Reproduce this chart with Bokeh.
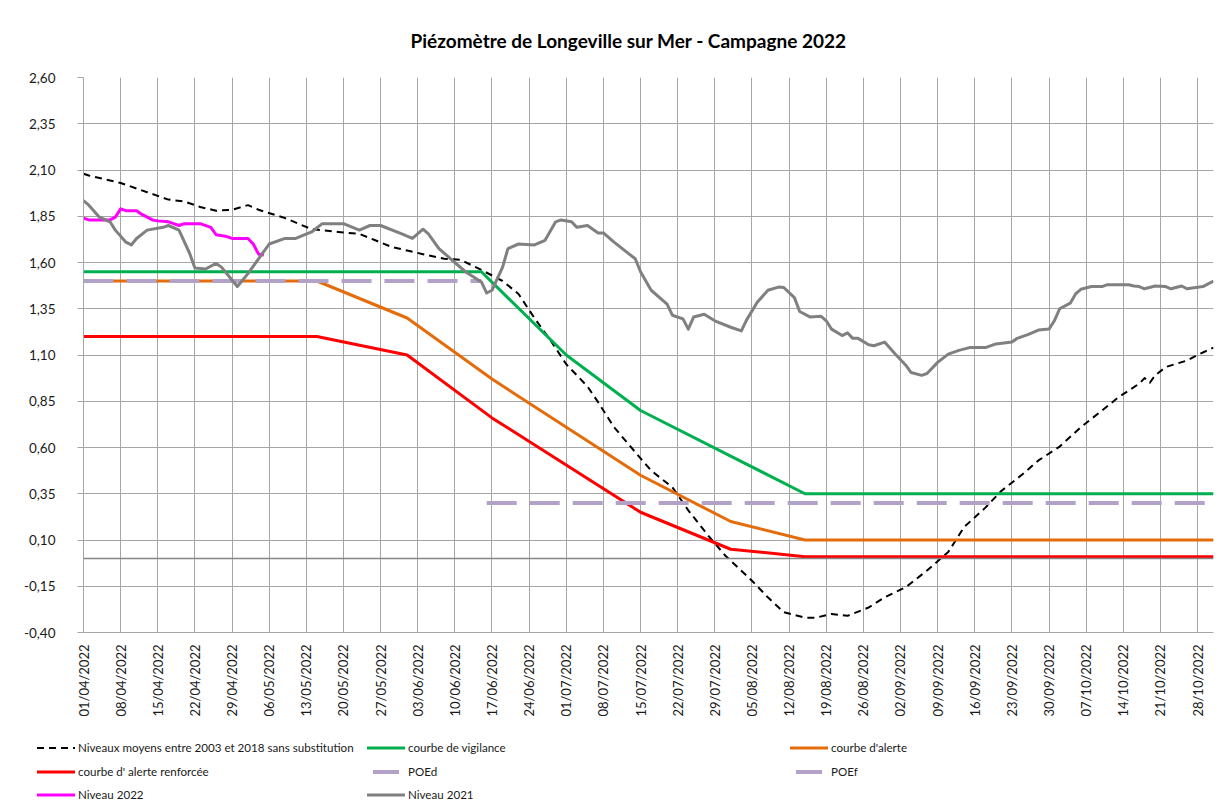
import datetime as dt
import numpy as np
from bokeh.plotting import figure
from bokeh.layouts import column
from bokeh.models import (FixedTicker, DatetimeTickFormatter, CustomJSTickFormatter,
                          Span, Range1d, Div)
from bokeh.embed import file_html
from bokeh.resources import INLINE

# ---------------- data ----------------
title_text = "Piézomètre de Longeville sur Mer - Campagne 2022"

x_tick_labels = ["01/04/2022", "08/04/2022", "15/04/2022", "22/04/2022", "29/04/2022",
                 "06/05/2022", "13/05/2022", "20/05/2022", "27/05/2022", "03/06/2022",
                 "10/06/2022", "17/06/2022", "24/06/2022", "01/07/2022", "08/07/2022",
                 "15/07/2022", "22/07/2022", "29/07/2022", "05/08/2022", "12/08/2022",
                 "19/08/2022", "26/08/2022", "02/09/2022", "09/09/2022", "16/09/2022",
                 "23/09/2022", "30/09/2022", "07/10/2022", "14/10/2022", "21/10/2022",
                 "28/10/2022"]
y_ticks = [-0.40, -0.15, 0.10, 0.35, 0.60, 0.85, 1.10, 1.35, 1.60, 1.85, 2.10, 2.35, 2.60]
x_start, x_end = "2022-04-01", "2022-10-31"
y_start, y_end = -0.40, 2.60

moyens_dates = ["2022-04-01", "2022-04-02", "2022-04-08", "2022-04-11", "2022-04-13",
                "2022-04-17", "2022-04-20", "2022-04-23", "2022-04-26", "2022-04-29",
                "2022-05-02", "2022-05-04", "2022-05-09", "2022-05-14", "2022-05-19",
                "2022-05-23", "2022-05-26", "2022-05-29", "2022-06-01", "2022-06-04",
                "2022-06-08", "2022-06-11", "2022-06-15", "2022-06-19", "2022-06-22",
                "2022-06-25", "2022-06-28", "2022-07-01", "2022-07-05", "2022-07-07",
                "2022-07-10", "2022-07-14", "2022-07-17", "2022-07-21", "2022-07-24",
                "2022-07-28", "2022-07-31", "2022-08-05", "2022-08-08", "2022-08-11",
                "2022-08-15", "2022-08-17", "2022-08-20", "2022-08-23", "2022-08-27",
                "2022-08-30", "2022-09-03", "2022-09-07", "2022-09-11", "2022-09-14",
                "2022-09-18", "2022-09-21", "2022-09-25", "2022-09-28", "2022-10-02",
                "2022-10-06", "2022-10-10", "2022-10-13", "2022-10-17", "2022-10-18",
                "2022-10-19", "2022-10-20", "2022-10-22", "2022-10-26", "2022-10-28",
                "2022-10-31"]
moyens_vals = [2.08, 2.07, 2.03, 2.00, 1.98,
               1.94, 1.93, 1.90, 1.88, 1.885,
               1.91, 1.885, 1.84, 1.78, 1.765,
               1.755, 1.72, 1.685, 1.665, 1.645,
               1.62, 1.615, 1.56, 1.50, 1.43,
               1.30, 1.18, 1.05, 0.93, 0.845,
               0.71, 0.575, 0.475, 0.385, 0.26,
               0.115, 0.015, -0.12, -0.21, -0.29,
               -0.32, -0.32, -0.30, -0.31, -0.265,
               -0.21, -0.155, -0.065, 0.035, 0.17,
               0.275, 0.365, 0.455, 0.53, 0.605,
               0.71, 0.80, 0.87, 0.945, 0.975,
               0.95, 0.99, 1.035, 1.07, 1.10,
               1.14]

vigilance_dates = ["2022-04-01", "2022-06-15", "2022-07-01", "2022-07-15", "2022-08-15", "2022-10-31"]
vigilance_vals = [1.55, 1.55, 1.10, 0.80, 0.35, 0.35]

alerte_dates = ["2022-04-01", "2022-05-15", "2022-06-01", "2022-06-17", "2022-07-15",
                "2022-08-01", "2022-08-15", "2022-10-31"]
alerte_vals = [1.50, 1.50, 1.30, 0.97, 0.45, 0.20, 0.10, 0.10]

renforcee_dates = ["2022-04-01", "2022-05-15", "2022-06-01", "2022-06-17", "2022-07-15",
                   "2022-08-01", "2022-08-15", "2022-10-31"]
renforcee_vals = [1.20, 1.20, 1.10, 0.76, 0.25, 0.05, 0.01, 0.01]

poed_dates = ["2022-04-01", "2022-06-15"]
poed_vals = [1.50, 1.50]
poef_dates = ["2022-06-16", "2022-10-31"]
poef_vals = [0.30, 0.30]

n2022_dates = ["2022-04-01", "2022-04-02", "2022-04-06", "2022-04-07", "2022-04-08",
               "2022-04-09", "2022-04-11", "2022-04-12", "2022-04-14", "2022-04-15",
               "2022-04-17", "2022-04-18", "2022-04-19", "2022-04-20", "2022-04-23",
               "2022-04-25", "2022-04-26", "2022-04-28", "2022-04-29", "2022-05-02",
               "2022-05-03", "2022-05-04", "2022-05-05"]
n2022_vals = [1.84, 1.83, 1.83, 1.845, 1.89,
              1.88, 1.88, 1.86, 1.83, 1.825,
              1.82, 1.81, 1.80, 1.81, 1.81,
              1.79, 1.75, 1.74, 1.73, 1.73,
              1.70, 1.645, 1.64]

n2021_dates = ["2022-04-01", "2022-04-02", "2022-04-04", "2022-04-06", "2022-04-07",
               "2022-04-09", "2022-04-10", "2022-04-11", "2022-04-13", "2022-04-16",
               "2022-04-17", "2022-04-19", "2022-04-21", "2022-04-22", "2022-04-24",
               "2022-04-26", "2022-04-27", "2022-04-30", "2022-05-02", "2022-05-04",
               "2022-05-06", "2022-05-09", "2022-05-11", "2022-05-14", "2022-05-16",
               "2022-05-20", "2022-05-23", "2022-05-25", "2022-05-27", "2022-05-31",
               "2022-06-02", "2022-06-04", "2022-06-05", "2022-06-07", "2022-06-10",
               "2022-06-12", "2022-06-15", "2022-06-16", "2022-06-17", "2022-06-19",
               "2022-06-20", "2022-06-22", "2022-06-25", "2022-06-27", "2022-06-29",
               "2022-06-30", "2022-07-02", "2022-07-03", "2022-07-05", "2022-07-07",
               "2022-07-08", "2022-07-10", "2022-07-14", "2022-07-15", "2022-07-17",
               "2022-07-20", "2022-07-21", "2022-07-23", "2022-07-24", "2022-07-25",
               "2022-07-27", "2022-07-29", "2022-08-01", "2022-08-03", "2022-08-04",
               "2022-08-06", "2022-08-08", "2022-08-10", "2022-08-11", "2022-08-13",
               "2022-08-14", "2022-08-16", "2022-08-18", "2022-08-19", "2022-08-20",
               "2022-08-22", "2022-08-23", "2022-08-24", "2022-08-25", "2022-08-27",
               "2022-08-28", "2022-08-30", "2022-09-01", "2022-09-03", "2022-09-04",
               "2022-09-06", "2022-09-07", "2022-09-09", "2022-09-11", "2022-09-13",
               "2022-09-15", "2022-09-18", "2022-09-20", "2022-09-23", "2022-09-24",
               "2022-09-26", "2022-09-28", "2022-09-30", "2022-10-01", "2022-10-02",
               "2022-10-04", "2022-10-05", "2022-10-06", "2022-10-08", "2022-10-10",
               "2022-10-11", "2022-10-15", "2022-10-16", "2022-10-17", "2022-10-18",
               "2022-10-20", "2022-10-22", "2022-10-23", "2022-10-25", "2022-10-26",
               "2022-10-29", "2022-10-31"]
n2021_vals = [1.935, 1.91, 1.845, 1.82, 1.775,
              1.71, 1.695, 1.73, 1.775, 1.79,
              1.80, 1.775, 1.65, 1.57, 1.565,
              1.595, 1.575, 1.47, 1.54, 1.62,
              1.70, 1.73, 1.73, 1.765, 1.81,
              1.81, 1.775, 1.80, 1.80, 1.755,
              1.73, 1.78, 1.755, 1.675, 1.60,
              1.55, 1.495, 1.435, 1.45, 1.575,
              1.675, 1.70, 1.695, 1.72, 1.82,
              1.83, 1.82, 1.79, 1.80, 1.76,
              1.76, 1.71, 1.62, 1.55, 1.45,
              1.375, 1.315, 1.295, 1.24, 1.305,
              1.32, 1.285, 1.25, 1.23, 1.29,
              1.385, 1.45, 1.467, 1.465, 1.41,
              1.335, 1.305, 1.31, 1.285, 1.24,
              1.205, 1.22, 1.19, 1.19, 1.155,
              1.15, 1.17, 1.105, 1.045, 1.005,
              0.99, 1.00, 1.06, 1.105, 1.125,
              1.14, 1.14, 1.16, 1.17, 1.19,
              1.21, 1.235, 1.24, 1.285, 1.35,
              1.38, 1.43, 1.455, 1.47, 1.47,
              1.48, 1.48, 1.473, 1.47, 1.458,
              1.473, 1.47, 1.458, 1.473, 1.458,
              1.47, 1.50]

legend_labels = ["Niveaux moyens entre 2003 et 2018 sans substitution", "courbe de vigilance",
                 "courbe d'alerte", "courbe d' alerte renforcée", "POEd", "POEf",
                 "Niveau 2022", "Niveau 2021"]

# ---------------- helpers ----------------
EPOCH = dt.datetime(1970, 1, 1)


def to_dt(s):
    return dt.datetime.strptime(s, "%Y-%m-%d")


def to_ms(d):
    return (d - EPOCH).total_seconds() * 1000.0


def dates(lst):
    return [to_dt(s) for s in lst]


x_tick_ms = [to_ms(dt.datetime.strptime(s, "%d/%m/%Y")) for s in x_tick_labels]

FONT = "Lato"
GRID = "#a6a6a6"
TXT = "#1a1a1a"
W = 1219

p = figure(width=W, height=730, x_axis_type="datetime",
           x_range=Range1d(to_ms(to_dt(x_start)), to_ms(to_dt(x_end))),
           y_range=Range1d(y_start, y_end),
           output_backend="svg", toolbar_location=None,
           min_border_left=83, min_border_right=6, min_border_top=77, min_border_bottom=98,
           background_fill_color="white", border_fill_color="white",
           outline_line_color=None, title=title_text)

p.title.align = "left"
p.title.offset = 327
p.title.text_font = FONT
p.title.text_font_size = "19px"
p.title.text_font_style = "bold"
p.title.text_color = "#000000"
p.title.vertical_align = "top"
p.title.standoff = 48

# x axis
p.xaxis.ticker = FixedTicker(ticks=x_tick_ms)
fmt = "%d/%m/%Y"
p.xaxis.formatter = DatetimeTickFormatter(microseconds=fmt, milliseconds=fmt, seconds=fmt,
                                          minsec=fmt, minutes=fmt, hourmin=fmt, hours=fmt,
                                          days=fmt, months=fmt, years=fmt)
p.xaxis.major_label_orientation = np.pi / 2
p.xaxis.major_tick_out = 0
p.xaxis.major_tick_in = 0
p.xaxis.minor_tick_out = 0
p.xaxis.minor_tick_in = 0
p.xaxis.major_label_standoff = 12
p.xaxis.axis_line_color = GRID
p.xaxis.major_label_text_font = FONT
p.xaxis.major_label_text_font_size = "13px"
p.xaxis.major_label_text_color = TXT

# y axis
p.yaxis.ticker = FixedTicker(ticks=y_ticks)
p.yaxis.formatter = CustomJSTickFormatter(code="return tick.toFixed(2).replace('.', ',');")
p.yaxis.major_tick_out = 6
p.yaxis.major_tick_in = 0
p.yaxis.minor_tick_out = 0
p.yaxis.minor_tick_in = 0
p.yaxis.major_tick_line_color = GRID
p.yaxis.axis_line_color = GRID
p.yaxis.major_label_standoff = 22
p.yaxis.major_label_text_font = FONT
p.yaxis.major_label_text_font_size = "13.5px"
p.yaxis.major_label_text_color = TXT

p.xgrid.grid_line_color = GRID
p.ygrid.grid_line_color = GRID
p.xgrid.grid_line_width = 1
p.ygrid.grid_line_width = 1

p.add_layout(Span(location=0, dimension="width", line_color="#868686", line_width=1.5))

# series styles (in series order)
styles = [
    dict(line_color="black", line_width=2, line_dash="7 5", line_join="round"),
    dict(line_color="#00b050", line_width=3, line_join="round"),
    dict(line_color="#e46c0a", line_width=3, line_join="round"),
    dict(line_color="#ff0000", line_width=3, line_join="round"),
    dict(line_color="#b3a2c7", line_width=4, line_dash="30 13"),
    dict(line_color="#b3a2c7", line_width=4, line_dash="30 13"),
    dict(line_color="#ff00ff", line_width=3, line_join="round"),
    dict(line_color="#808080", line_width=3, line_join="round"),
]
series = [(moyens_dates, moyens_vals), (vigilance_dates, vigilance_vals),
          (alerte_dates, alerte_vals), (renforcee_dates, renforcee_vals),
          (poed_dates, poed_vals), (poef_dates, poef_vals),
          (n2022_dates, n2022_vals), (n2021_dates, n2021_vals)]
for (xs, ys), st in zip(series, styles):
    p.line(dates(xs), ys, **st)

# ---------------- legend strip below the chart (HTML) ----------------
LH = 75
col_x = [37, 367, 790]
row_y = [18, 42, 65]
legend_sample = [  # (stroke width, dash, sample width, sample offset)
    (2, "7 5", 38, 0), (3, "", 38, 0), (3, "", 38, 0), (3, "", 38, 0),
    (4, "", 26, 6), (4, "", 26, 6), (3, "", 38, 0), (3, "", 38, 0),
]
parts = []
for i, lab in enumerate(legend_labels):
    cx = col_x[i % 3]
    cy = row_y[i // 3]
    sw, dash, gw, gx = legend_sample[i]
    color = styles[i]["line_color"]
    dash_attr = f' stroke-dasharray="{dash}"' if dash else ""
    parts.append(
        f'<svg style="position:absolute;left:{cx + gx}px;top:{cy - 5}px" width="{gw}" height="10">'
        f'<line x1="0" y1="5" x2="{gw}" y2="5" stroke="{color}" stroke-width="{sw}"{dash_attr}/></svg>')
    parts.append(
        f'<span style="position:absolute;left:{cx + 41}px;top:{cy - 9}px;line-height:18px;'
        f'white-space:nowrap;font-family:{FONT};font-size:11.6px;color:{TXT}">{lab}</span>')
html = (f'<div style="position:relative;width:{W}px;height:{LH}px;background:white">'
        + "".join(parts) + "</div>")
legend_div = Div(text=html, width=W, height=LH, margin=0)

layout = column(p, legend_div, spacing=0)
open("out.html", "w").write(file_html(layout, INLINE))
